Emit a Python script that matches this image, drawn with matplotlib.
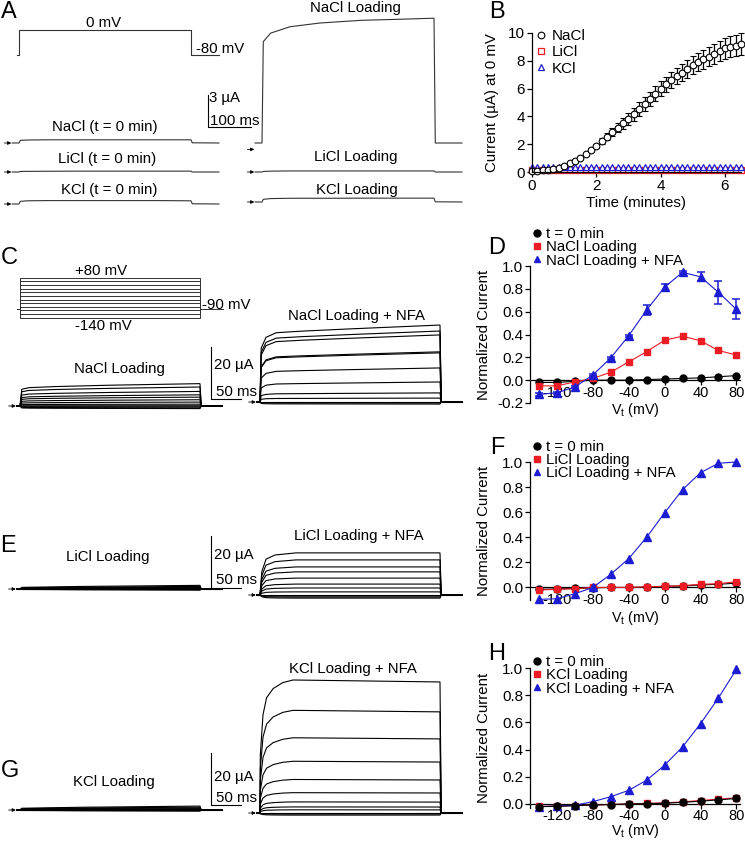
import numpy as np
import matplotlib.pyplot as plt
from matplotlib.lines import Line2D
from matplotlib.ticker import FormatStrFormatter

plt.rcParams['font.family'] = ['Liberation Sans', 'DejaVu Sans']
plt.rcParams['mathtext.default'] = 'regular'
plt.rcParams['axes.unicode_minus'] = False

W, H = 745, 841
RED = '#ec1c24'
BLUE = '#1c1cd2'

# ---------------- data ----------------
# panel A: current at 0 mV step (time in ms, current in uA)
a_time = [-16, 0, 3, 20, 65, 135, 230, 320, 400, 403, 465]
a_nacl0 = [0, 0, 0.25, 0.28, 0.3, 0.3, 0.3, 0.3, 0.3, 0.02, 0]
a_licl0 = [0, 0, 0.05, 0.06, 0.07, 0.08, 0.08, 0.08, 0.08, 0.0, 0]
a_kcl0 = [0, 0, 0.25, 0.3, 0.32, 0.32, 0.32, 0.32, 0.3, 0.02, 0]
a_nacl_load = [0, 0, 9.5, 10.3, 10.9, 11.25, 11.5, 11.6, 11.7, 0.0, 0]
a_licl_load = [0, 0, 0.05, 0.08, 0.1, 0.1, 0.1, 0.1, 0.1, 0.0, 0]
a_kcl_load = [0, 0, 0.25, 0.32, 0.35, 0.35, 0.36, 0.36, 0.36, 0.02, 0]
a_prot_t = [-5, 0, 0, 400, 400, 465]
a_prot_v = [-80, -80, 0, 0, -80, -80]

# panel B: current at 0 mV vs time
b_sec = [0, 10, 20, 30, 40, 50, 60, 70, 80, 90, 100, 110, 120, 130, 140, 150,
         160, 170, 180, 190, 200, 210, 220, 230, 240, 250, 260, 270, 280, 290,
         300, 310, 320, 330, 340, 350, 360, 370, 380, 390]
b_nacl = [0.10, 0.10, 0.12, 0.15, 0.20, 0.30, 0.45, 0.62, 0.80, 1.02, 1.28, 1.58,
          1.90, 2.22, 2.55, 2.90, 3.20, 3.50, 3.80, 4.15, 4.52, 4.90, 5.25, 5.62,
          6.00, 6.30, 6.60, 6.90, 7.15, 7.42, 7.70, 7.90, 8.10, 8.30, 8.50, 8.70,
          8.90, 9.00, 9.10, 9.20]
b_nacl_err = [0.03, 0.03, 0.03, 0.03, 0.04, 0.04, 0.05, 0.05, 0.06, 0.07, 0.10, 0.12,
              0.15, 0.2, 0.25, 0.3, 0.35, 0.4, 0.45, 0.47, 0.5, 0.5, 0.52, 0.54,
              0.55, 0.57, 0.58, 0.6, 0.62, 0.63, 0.65, 0.66, 0.68, 0.7, 0.71, 0.72,
              0.74, 0.76, 0.78, 0.8]
b_licl = [0.12, 0.11, 0.12, 0.12, 0.11, 0.12, 0.12, 0.11, 0.12, 0.12, 0.12, 0.11,
          0.12, 0.12, 0.11, 0.12, 0.12, 0.12, 0.11, 0.12, 0.12, 0.12, 0.11, 0.12,
          0.12, 0.12, 0.11, 0.12, 0.12, 0.12, 0.11, 0.12, 0.12, 0.12, 0.11, 0.12,
          0.12, 0.12, 0.12, 0.12]
b_kcl = [0.33, 0.34, 0.34, 0.35, 0.34, 0.35, 0.35, 0.35, 0.34, 0.35, 0.35, 0.36,
         0.35, 0.35, 0.36, 0.35, 0.36, 0.36, 0.35, 0.36, 0.36, 0.36, 0.35, 0.36,
         0.36, 0.37, 0.36, 0.36, 0.37, 0.36, 0.37, 0.37, 0.36, 0.37, 0.37, 0.37,
         0.37, 0.38, 0.37, 0.38]

# voltage steps (mV) and normalized I-V curves
volts = [-140, -120, -100, -80, -60, -40, -20, 0, 20, 40, 60, 80]
d_t0 = [-0.02, -0.02, -0.01, 0.0, 0.0, 0.0, 0.005, 0.01, 0.015, 0.02, 0.03, 0.04]
d_load = [-0.05, -0.05, -0.015, 0.015, 0.07, 0.16, 0.25, 0.35, 0.385, 0.345, 0.26, 0.22]
d_nfa = [-0.125, -0.11, -0.06, 0.045, 0.195, 0.39, 0.615, 0.815, 0.945, 0.905, 0.77, 0.62]
d_nfa_err = [0.01, 0.01, 0.01, 0.01, 0.01, 0.01, 0.045, 0.03, 0.01, 0.04, 0.1, 0.087]
f_t0 = [-0.015, -0.012, -0.008, -0.003, 0.0, 0.0, 0.003, 0.01, 0.012, 0.02, 0.025, 0.035]
f_load = [-0.02, -0.015, -0.01, 0.0, 0.0, 0.0, 0.005, 0.008, 0.015, 0.025, 0.03, 0.045]
f_nfa = [-0.095, -0.09, -0.05, 0.0, 0.105, 0.23, 0.4, 0.595, 0.78, 0.915, 0.99, 1.0]
h_t0 = [-0.02, -0.018, -0.013, -0.008, -0.005, 0.0, 0.002, 0.005, 0.012, 0.02, 0.03, 0.04]
h_load = [-0.018, -0.016, -0.012, -0.008, -0.004, 0.0, 0.004, 0.008, 0.015, 0.025, 0.035, 0.045]
h_nfa = [-0.02, -0.015, -0.01, 0.017, 0.053, 0.10, 0.175, 0.285, 0.42, 0.59, 0.78, 0.99]

# current families (uA at end of 300 ms step), one per voltage step
c_load_amp = [-1.0, -0.7, -0.3, 0.1, 0.7, 1.5, 2.4, 3.4, 4.3, 5.6, 7.3, 8.6]
c_nfa_amp = [-0.8, -0.4, 0.0, 1.5, 3.5, 7.7, 13.1, 18.9, 19.3, 25.8, 27.3, 29.6]
e_load_amp = [-0.4, -0.3, -0.2, -0.1, 0.0, 0.1, 0.2, 0.35, 0.5, 0.7, 1.0, 1.4]
e_nfa_amp = [-1.2, -0.8, -0.4, 0.0, 1.2, 2.7, 4.2, 6.5, 8.9, 10.8, 13.5, 16.2]
g_load_amp = [-0.4, -0.3, -0.2, -0.1, 0.0, 0.1, 0.2, 0.35, 0.5, 0.8, 1.1, 1.5]
g_nfa_amp = [-0.8, -0.4, 0.0, 1.2, 2.3, 4.2, 7.7, 12.7, 19.6, 28.5, 38.9, 50.4]
# time course of the traces (fraction of end-of-step current)
load_t = [0, 3, 15, 60, 150, 300]
load_f = [0, 0.75, 0.82, 0.87, 0.93, 1.0]
slow_t = [0, 3, 100, 200, 300]
slow_f = [0, 0.45, 0.7, 0.85, 1.0]
c_nfa_t = [0, 2, 10, 27, 68, 150, 300]
c_nfa_f = [0, 0.7, 0.84, 0.9, 0.92, 0.95, 1.0]
e_nfa_t = [0, 3, 10, 25, 60, 300]
e_nfa_f = [0, 0.55, 0.85, 0.95, 1.0, 1.0]
g_nfa_t = [0, 0.5, 5, 11, 22, 38, 55, 300]
g_nfa_f = [0, 0.44, 0.75, 0.88, 0.95, 0.995, 1.015, 1.0]
c_prot_hold = -90

fig = plt.figure(figsize=(W / 100, H / 100), dpi=100)


def box(x0, y0, x1, y1):
    return fig.add_axes([x0 / W, 1 - y1 / H, (x1 - x0) / W, (y1 - y0) / H])


def trace_ax(x0, y0, x1, y1, t0px, ms_px, base_px, per_px, base_val=0):
    ax = box(x0, y0, x1, y1)
    ax.set_xlim((x0 - t0px) * ms_px, (x1 - t0px) * ms_px)
    ax.set_ylim(base_val - (y1 - base_px) * per_px, base_val + (base_px - y0) * per_px)
    ax.axis('off')
    return ax


def ftext(x, y, s, **kw):
    kw.setdefault('va', 'center')
    kw.setdefault('fontsize', 10.8)
    fig.text(x / W, 1 - y / H, s, **kw)


def arrow(ax, t, y, length):
    ax.annotate('', xy=(t, y), xytext=(t - length, y),
                arrowprops=dict(arrowstyle='-|>', lw=0.6, color='k',
                                mutation_scale=5, shrinkA=0, shrinkB=0),
                annotation_clip=False)


def family(ax, amps, st, sf, t_start, t_end, lw=0.7):
    for a in amps:
        tt = [t_start] + list(st) + [st[-1] + 2, t_end]
        ii = [0] + [a * f for f in sf] + [0, 0]
        ax.plot(tt, ii, color='k', lw=lw, solid_joinstyle='miter')


def scalebar(ax, t, y, dy, dt, lw=0.8):
    ax.plot([t, t, t + dt], [y + dy, y, y], color='k', lw=lw, clip_on=False)


# ---------------- panel A ----------------
ms_a = 400 / 172
ua_a = 3 / 32
axv = trace_ax(0, 15, 250, 65, 19, ms_a, 55, 3.2, base_val=-80)
axv.plot(a_prot_t, a_prot_v, color='#333333', lw=0.8)

for base, tr in [(143, a_nacl0), (172, a_licl0), (204, a_kcl0)]:
    ax = trace_ax(0, base - 20, 250, base + 8, 19, ms_a, base, ua_a)
    ax.plot(a_time, tr, color='#333333', lw=0.8)
    arrow(ax, -18, 0, 16)
    if base == 143:
        scalebar(ax, 440, 1.5, 3, 100)

axr = trace_ax(243, 5, 493, 151, 262, ms_a, 143, ua_a)
axr.plot(a_time, a_nacl_load, color='#333333', lw=0.8)
arrow(axr, -18, -0.6, 16)
for base, tr in [(172, a_licl_load), (202, a_kcl_load)]:
    ax = trace_ax(243, base - 20, 493, base + 8, 262, ms_a, base, ua_a)
    ax.plot(a_time, tr, color='#333333', lw=0.8)
    arrow(ax, -18, 0, 16)

ftext(104, 23, '0 mV', ha='center')
ftext(196, 49, '-80 mV', ha='left')
ftext(209, 98, '3 \u00b5A', ha='left')
ftext(210, 121, '100 ms', ha='left')
ftext(105, 127, 'NaCl (t = 0 min)', ha='center')
ftext(107, 159, 'LiCl (t = 0 min)', ha='center')
ftext(109, 190, 'KCl (t = 0 min)', ha='center')
ftext(355, 8, 'NaCl Loading', ha='center')
ftext(356, 157, 'LiCl Loading', ha='center')
ftext(357, 190, 'KCl Loading', ha='center')

# ---------------- panel C / E / G traces ----------------
ms_c = 50 / 30
ua_c = 20 / 52
axp = trace_ax(0, 260, 250, 330, 20, ms_c, 308.6, 5.5, base_val=c_prot_hold)
for v in volts:
    axp.plot([-5, 0, 0, 300, 300, 338], [c_prot_hold, c_prot_hold, v, v, c_prot_hold, c_prot_hold],
             color='#333333', lw=0.7)
ftext(101, 271, '+80 mV', ha='center')
ftext(103, 326, '-140 mV', ha='center')
ftext(202, 305, '-90 mV', ha='left')

rows = [
    (406, 402, c_load_amp, (load_t, load_f), c_nfa_amp, (c_nfa_t, c_nfa_f),
     'NaCl Loading', 119, 369, 'NaCl Loading + NFA', 357, 316, 2.7, 365, 392),
    (589, 595, e_load_amp, (slow_t, slow_f), e_nfa_amp, (e_nfa_t, e_nfa_f),
     'LiCl Loading', 108, 557, 'LiCl Loading + NFA', 359, 536, 0.4, 555, 580),
    (810, 813, g_load_amp, (slow_t, slow_f), g_nfa_amp, (g_nfa_t, g_nfa_f),
     'KCl Loading', 114, 782, 'KCl Loading + NFA', 353, 669, 1.9, 777, 798),
]
for (bl, br, la, ls, ra, rs, ln, lx, ly, rn, rx, ry, sb, t1, t2) in rows:
    axl = trace_ax(0, bl - 60, 250, bl + 8, 20, ms_c, bl, ua_c)
    family(axl, la, ls[0], ls[1], -5, 337, lw=0.8)
    arrow(axl, -7, 0, 12)
    scalebar(axl, 318, sb, 20, 50)
    ftext(lx, ly, ln, ha='center')
    ftext(214, t1, '20 \u00b5A', ha='left')
    ftext(216, t2, '50 ms', ha='left')
    axn = trace_ax(243, br - 140, 493, br + 8, 260, ms_c, br, ua_c)
    family(axn, ra, rs[0], rs[1], -5, 337, lw=0.8)
    arrow(axn, -7, 0, 12)
    ftext(rx, ry, rn, ha='center')

# ---------------- panel B ----------------
axB = box(532, 33, 741, 172)
b_min = [s / 60 for s in b_sec]
axB.plot(b_min, b_licl, ls='none', marker='s', ms=4, mfc='white', mec=RED, mew=0.9, clip_on=False)
axB.plot(b_min, b_kcl, ls='none', marker='^', ms=4.5, mfc='white', mec=BLUE, mew=0.9, clip_on=False)
axB.errorbar(b_min, b_nacl, yerr=b_nacl_err, ls='none', marker='o', ms=4.8, mfc='white',
             mec='k', mew=0.8, ecolor='k', elinewidth=0.9, capsize=2.5, capthick=0.9, clip_on=False)
axB.set_xlim(0, 6.5)
axB.set_ylim(0, 10)
axB.set_xticks([0, 2, 4, 6])
axB.set_yticks([0, 2, 4, 6, 8, 10])
for s in ['top', 'right']:
    axB.spines[s].set_visible(False)
for s in ['left', 'bottom']:
    axB.spines[s].set_linewidth(0.9)
axB.tick_params(labelsize=11, length=3.5, width=0.9, pad=1.5)
axB.set_xlabel('Time (minutes)', fontsize=10.8, labelpad=2)
axB.set_ylabel('Current (\u00b5A) at 0 mV', fontsize=10.8)
axB.yaxis.set_label_coords(-0.16, 0.5)
hb = [Line2D([], [], ls='none', marker='o', ms=4.8, mfc='white', mec='k', mew=0.8),
      Line2D([], [], ls='none', marker='s', ms=4, mfc='white', mec=RED, mew=0.9),
      Line2D([], [], ls='none', marker='^', ms=4.5, mfc='white', mec=BLUE, mew=0.9)]
fig.legend(hb, ['NaCl', 'LiCl', 'KCl'], loc='upper left', bbox_to_anchor=(535 / W, 1 - 29 / H),
           frameon=False, fontsize=11, handlelength=0.8, handletextpad=0.3,
           labelspacing=0.15, borderpad=0, borderaxespad=0)


# ---------------- panels D / F / H ----------------
def iv_panel(y0, y1, ylo, t0, load, nfa, names, leg_y, xlab_y, nfa_err=None, black_on_top=False):
    ax = box(530, y0, 740, y1)
    kw = dict(lw=0.8, clip_on=False)
    if not black_on_top:
        ax.plot(volts, t0, color='k', marker='o', ms=5, zorder=3, **kw)
    ax.plot(volts, load, color=RED, marker='s', ms=5, zorder=4, **kw)
    ax.errorbar(volts, nfa, yerr=nfa_err, color=BLUE, marker='^', ms=5.5, zorder=5,
                elinewidth=1.1, capsize=3, capthick=1.1, **kw)
    if black_on_top:
        ax.plot(volts, t0, color='k', marker='o', ms=5, zorder=6, **kw)
    ax.set_xlim(-150, 84)
    ax.set_ylim(ylo, 1.0)
    ax.spines['bottom'].set_position(('data', 0))
    for s in ['top', 'right']:
        ax.spines[s].set_visible(False)
    for s in ['left', 'bottom']:
        ax.spines[s].set_linewidth(0.9)
    ax.set_xticks([-120, -80, -40, 0, 40, 80])
    yt = [-0.2, 0.0, 0.2, 0.4, 0.6, 0.8, 1.0] if ylo <= -0.2 else [0.0, 0.2, 0.4, 0.6, 0.8, 1.0]
    ax.set_yticks(yt)
    ax.yaxis.set_major_formatter(FormatStrFormatter('%.1f'))
    ax.tick_params(labelsize=11, length=3.5, width=0.9, pad=1.2)
    ax.tick_params(axis='x', labelsize=10.5, pad=0.5)
    ax.set_xlabel('V$_t$ (mV)', fontsize=10.3)
    ax.xaxis.set_label_coords(0.5, (y1 - xlab_y) / (y1 - y0))
    ax.set_ylabel('Normalized Current', fontsize=10.8)
    ax.yaxis.set_label_coords(-0.185, 0.5)
    hs = [Line2D([], [], ls='none', marker='o', color='k', ms=5),
          Line2D([], [], ls='none', marker='s', color=RED, ms=5),
          Line2D([], [], ls='none', marker='^', color=BLUE, ms=5)]
    fig.legend(hs, names, loc='upper left', bbox_to_anchor=(532 / W, 1 - leg_y / H),
               frameon=False, fontsize=10.8, handlelength=0.6, handletextpad=0.3,
               labelspacing=-0.05, borderpad=0, borderaxespad=0)
    return ax


iv_panel(266, 403, -0.2, d_t0, d_load, d_nfa,
         ['t = 0 min', 'NaCl Loading', 'NaCl Loading + NFA'], 227, 401, nfa_err=d_nfa_err)
iv_panel(462, 600, -0.1, f_t0, f_load, f_nfa,
         ['t = 0 min', 'LiCl Loading', 'LiCl Loading + NFA'], 440, 609)
iv_panel(668, 808, -0.03, h_t0, h_load, h_nfa,
         ['t = 0 min', 'KCl Loading', 'KCl Loading + NFA'], 655, 822.5, black_on_top=True)

# panel letters
for lx, ly, s in [(9, 12, 'A'), (497, 12, 'B'), (9, 258, 'C'), (497, 248, 'D'),
                  (8, 546, 'E'), (497, 448, 'F'), (10, 771, 'G'), (497, 654, 'H')]:
    ftext(lx, ly, s, ha='center', fontsize=17)

fig.savefig('out.png', dpi=100)
